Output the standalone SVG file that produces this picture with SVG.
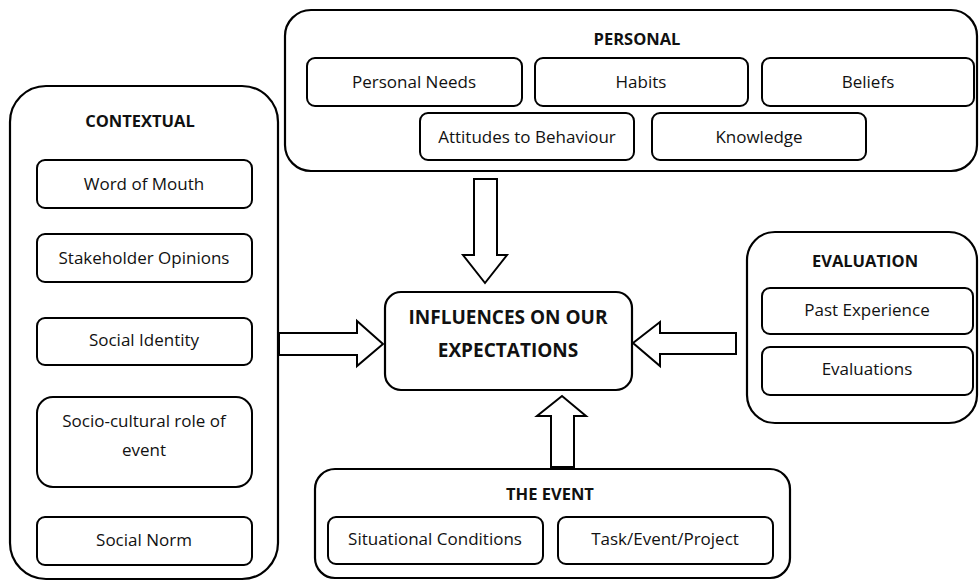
<svg xmlns="http://www.w3.org/2000/svg" width="979" height="581" viewBox="0 0 979 581">
<style>
.c{fill:#fff;stroke:#000;stroke-width:2.2}
.b{fill:#fff;stroke:#000;stroke-width:2}
.a{fill:#fff;stroke:#000;stroke-width:2;stroke-linejoin:miter}
text{font-family:"Open Sans","Noto Sans","Liberation Sans",sans-serif;fill:#111;text-anchor:middle;dominant-baseline:central}
.t{font-size:17px}
.h{font-size:16.5px;font-weight:bold}
.m{font-size:19px;font-weight:bold}
</style>
<rect width="979" height="581" fill="#fff"/>
<g id="personal">
<rect class="c" x="285" y="10" width="692" height="161" rx="26"/>
<text class="h" x="637" y="38">PERSONAL</text>
</g>
<g id="personal-needs"><rect class="b" x="307" y="58" width="215" height="48" rx="8"/><text class="t" x="414" y="81">Personal Needs</text></g>
<g id="habits"><rect class="b" x="535" y="58" width="213" height="48" rx="8"/><text class="t" x="641" y="81">Habits</text></g>
<g id="beliefs"><rect class="b" x="762" y="58" width="212" height="48" rx="8"/><text class="t" x="868" y="81">Beliefs</text></g>
<g id="attitudes"><rect class="b" x="420" y="113" width="214" height="47" rx="8"/><text class="t" x="527" y="136">Attitudes to Behaviour</text></g>
<g id="knowledge"><rect class="b" x="652" y="113" width="214" height="47" rx="8"/><text class="t" x="759" y="136">Knowledge</text></g>

<g id="contextual">
<rect class="c" x="10" y="86" width="268" height="493" rx="36"/>
<text class="h" x="140" y="120">CONTEXTUAL</text>
</g>
<g id="word-of-mouth"><rect class="b" x="37" y="160" width="215" height="48" rx="8"/><text class="t" x="144" y="183">Word of Mouth</text></g>
<g id="stakeholder"><rect class="b" x="37" y="234" width="215" height="48" rx="8"/><text class="t" x="144" y="257">Stakeholder Opinions</text></g>
<g id="social-identity"><rect class="b" x="37" y="318" width="215" height="47" rx="8"/><text class="t" x="144" y="339">Social Identity</text></g>
<g id="socio-cultural"><rect class="b" x="37" y="397" width="215" height="90" rx="16"/><text class="t" x="144" y="420">Socio-cultural role of</text><text class="t" x="144" y="449">event</text></g>
<g id="social-norm"><rect class="b" x="37" y="517" width="215" height="48" rx="8"/><text class="t" x="144" y="539">Social Norm</text></g>

<g id="center">
<rect class="c" x="385" y="292" width="247" height="98" rx="16"/>
<text class="m" x="508" y="317">INFLUENCES ON OUR</text>
<text class="m" x="508" y="350">EXPECTATIONS</text>
</g>

<g id="evaluation">
<rect class="c" x="747" y="232" width="230" height="191" rx="28"/>
<text class="h" x="865" y="260">EVALUATION</text>
</g>
<g id="past-experience"><rect class="b" x="762" y="288" width="211" height="46" rx="8"/><text class="t" x="867" y="309">Past Experience</text></g>
<g id="evaluations"><rect class="b" x="762" y="347" width="211" height="48" rx="8"/><text class="t" x="867" y="368">Evaluations</text></g>

<g id="the-event">
<rect class="c" x="315" y="469" width="475" height="109" rx="20"/>
<text class="h" x="550" y="493">THE EVENT</text>
</g>
<g id="situational"><rect class="b" x="328" y="517" width="215" height="47" rx="8"/><text class="t" x="435" y="538">Situational Conditions</text></g>
<g id="task"><rect class="b" x="558" y="517" width="215" height="47" rx="8"/><text class="t" x="665" y="538">Task/Event/Project</text></g>

<g id="connectors">
<polygon class="a" points="474,179 497,179 497,255 507,255 485,283 463,255 474,255"/>
<polygon class="a" points="279,333 357,333 357,321 383,344 357,366 357,355 279,355"/>
<polygon class="a" points="736,333 660,333 660,322 633,343 660,366 660,354 736,354"/>
<polygon class="a" points="551,467 551,416 537,416 562,396 586,416 574,416 574,467"/>
</g>
</svg>
